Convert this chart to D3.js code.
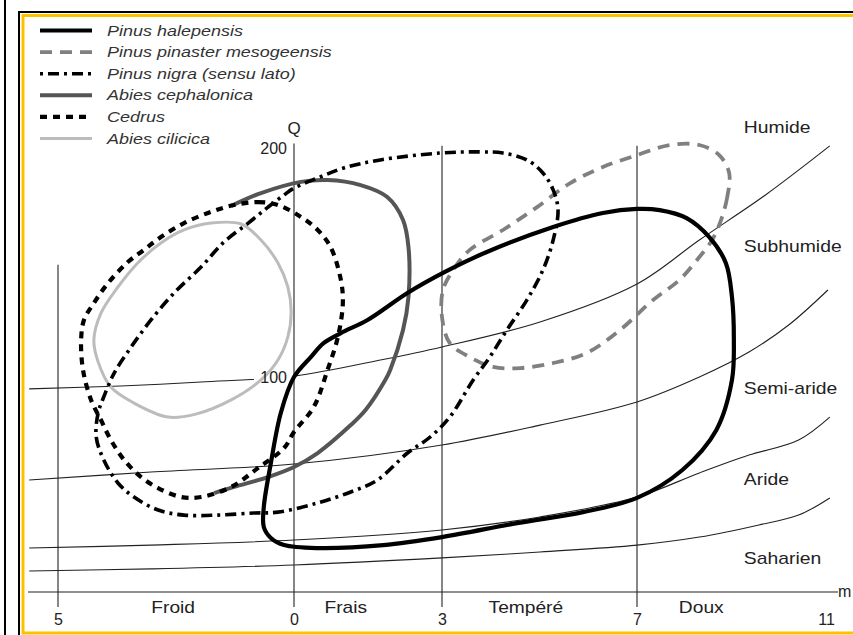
<!DOCTYPE html>
<html><head><meta charset="utf-8">
<script src="https://cdn.jsdelivr.net/npm/d3@7/dist/d3.min.js"></script>
<style>body{margin:0;background:#fff}svg{display:block}</style>
</head><body><svg id="c" width="853" height="635"></svg>
<script>
// ---------- data ----------
const mTicks = [-5, 0, 3, 7, 11];
const mTickLabels = ["5", "0", "3", "7", "11"];
const qTicks = [100, 200];
const gridM = [-5, 0, 3, 7];
const gridTopQ = [149, 202, 201, 201];
const zoneNames = ["Froid", "Frais", "Tempéré", "Doux"];
const zoneLabelM = [-2.56, 1.05, 4.72, 8.36];
const climateNames = ["Humide", "Subhumide", "Semi-aride", "Aride", "Saharien"];
const climateLabelQ = [209, 157, 95, 55.5, 21];
const climateLabelM = 9.26;

// bioclimatic boundaries [m, Q]
const limitHumide = [[-5.61,94.8],[-3.67,96.1],[-1.97,97.8],[0,100.4],[1.75,107.4],[3,113.1],[5.01,124],[7,140.6],[8.32,159.8],[9.72,179.5],[11.08,200.9]];
const limitSubhumide = [[-5.61,55],[-3.03,58.5],[0,62],[3,70.3],[5.01,79],[7,89.1],[8.32,100],[9.37,110.9],[10.21,122.7],[11.04,138]];
const limitSemiAride = [[-5.61,25.3],[-3.03,26.6],[0,28.8],[3,33.2],[5.01,38.9],[7,47.6],[8.32,58.1],[9.37,65.9],[10.42,72.5],[11.08,82.5]];
const limitAride = [[-5.61,15.3],[-3.03,16.2],[0,17.9],[3,21],[5.01,23.6],[7,26.6],[8.32,30.1],[9.58,35.4],[10.42,39.7],[11.08,47.2]];

// species envelopes [m, Q]
const halepensis = [[0,100],[0.34,108.7],[0.6,114.8],[0.95,119.2],[1.49,124.9],[2.3,136.7],[3.06,145.9],[3.92,154.6],[5.28,165.5],[6.3,171.6],[7,173.4],[7.48,172.9],[8.05,169.4],[8.53,161.1],[8.88,149.8],[9.01,134.9],[9.05,116.2],[9.01,98.7],[8.68,76.9],[7.96,59.4],[7,47.2],[5.89,41],[4.54,36.2],[3,30.1],[1.81,26.6],[0.48,25.3],[-0.21,26.6],[-0.49,29.7],[-0.64,34.5],[-0.64,43.2],[-0.49,62.4],[-0.28,84.3]];
const pinaster = [[8.95,189.1],[8.91,178.6],[8.78,168.6],[8.59,159.8],[8.32,152.4],[7.9,142.4],[7.34,133.6],[6.65,120.5],[5.97,110.5],[5.28,106.1],[4.6,103.9],[4.05,104.4],[3.57,108.7],[3.16,114.8],[3,126.2],[3.02,138],[3.23,146.7],[3.57,155.5],[4.25,164.2],[4.95,174.2],[5.63,184.7],[6.3,191.7],[7,196.9],[7.69,201.3],[8.32,201.3],[8.74,196.9]];
const nigra = [[-4.03,91.3],[-3.81,101.7],[-3.45,113.1],[-3.03,124.9],[-2.54,136.7],[-1.97,148],[-1.48,159],[-0.97,167.2],[-0.55,174.2],[-0.21,179.5],[0,182.5],[0.48,186.9],[1.01,191.3],[1.75,194.8],[2.96,197.8],[3.78,198.3],[4.25,197.8],[4.74,194.8],[5.07,189.1],[5.28,181.7],[5.38,172.9],[5.28,159.8],[5.07,146.7],[4.74,133.6],[4.33,120.5],[3.98,108.7],[3.64,98.7],[3.16,82.5],[2.76,73.8],[2.3,66.8],[1.69,55],[1.15,49.8],[0.48,45],[-0.34,41],[-0.85,40.6],[-1.61,39.7],[-2.33,39.7],[-2.88,41.9],[-3.39,47.6],[-3.73,53.7],[-4.03,63.8],[-4.19,73.8],[-4.15,84.3]];
const cephalonica = [[-1.33,174.7],[-0.7,180.3],[0.14,185.2],[0.68,186],[1.35,183.8],[1.89,178.6],[2.21,168.6],[2.32,156.8],[2.32,134.9],[2.21,120.5],[1.95,103.1],[1.85,98.7],[1.45,85.6],[1.15,79],[0.48,66.8],[0,60.7],[-0.55,56.3],[-1.27,52],[-1.69,49.3]];
const cedrus = [[-1.27,175.1],[-0.76,176.4],[-0.34,175.1],[0.14,169.9],[0.48,164.2],[0.74,156.8],[0.95,142.4],[0.99,132.3],[0.89,117.5],[0.68,103.1],[0.4,86.9],[0,76],[-0.21,69],[-0.76,60.3],[-1.33,52],[-1.97,47.6],[-2.39,47.6],[-2.88,51.5],[-3.24,56.3],[-3.6,63.8],[-3.88,72.5],[-4.09,81.2],[-4.3,90],[-4.47,103.1],[-4.51,116.2],[-4.45,124.9],[-4.24,132.3],[-3.94,141],[-3.52,150.2],[-3.18,155.5],[-2.82,161.1],[-2.33,167.2],[-1.76,172.1]];
const cilicica = [[-1.76,167.2],[-1.12,166.8],[-0.7,159.8],[-0.34,149.8],[-0.13,139.3],[-0.06,128.4],[-0.13,117.5],[-0.34,107.4],[-0.7,98.7],[-1.33,90],[-2.08,83.8],[-2.67,82.5],[-3.39,88.6],[-3.88,95.6],[-4.15,106.6],[-4.24,116.2],[-4.09,127.9],[-3.73,139.3],[-3.31,149.8],[-2.82,158.5],[-2.33,164.2]];

const legendNames = ["Pinus halepensis", "Pinus pinaster mesogeensis", "Pinus nigra (sensu lato)", "Abies cephalonica", "Cedrus", "Abies cilicica"];

// ---------- styles ----------
const styles = {
  halepensis:  {stroke:"#000",    width:4.2, dash:null},
  pinaster:    {stroke:"#808080", width:3.8, dash:"12,8"},
  nigra:       {stroke:"#000",    width:3.6, dash:"3,5,11,5"},
  cephalonica: {stroke:"#555",    width:4,   dash:null},
  cedrus:      {stroke:"#000",    width:4.2, dash:"7,6"},
  cilicica:    {stroke:"#bcbcbc", width:3,   dash:null}
};
const legendStyleKeys = ["halepensis","pinaster","nigra","cephalonica","cedrus","cilicica"];

// ---------- scales ----------
const x = d3.scaleLinear().domain(mTicks).range([58, 294, 442, 637, 826]);
const y = d3.scaleLinear().domain([100, 200]).range([377, 148]);
const axisY = 592, gridBottom = 607;
const FONT = "'Liberation Sans', Arial, sans-serif";

const svg = d3.select("#c");
svg.append("rect").attr("width", 853).attr("height", 635).attr("fill", "#fff");

// frame
svg.append("line").attr("x1", 5).attr("x2", 5).attr("y1", 0).attr("y2", 635)
  .attr("stroke", "#000").attr("stroke-width", 2);
svg.append("path").attr("d", "M19,640 V12 H860").attr("fill", "none")
  .attr("stroke", "#000").attr("stroke-width", 2);
svg.append("path").attr("d", "M860,15.5 H23 V633 H860").attr("fill", "none")
  .attr("stroke", "#FFC000").attr("stroke-width", 3);

function txt(g, px, py, s, size, opt = {}) {
  const t = g.append("text")
    .attr("transform", `translate(${px},${py}) scale(${opt.sx || 1},1)`)
    .attr("font-family", FONT).attr("font-size", size)
    .attr("fill", opt.fill || "#222")
    .attr("text-anchor", opt.anchor || "start")
    .text(s);
  if (opt.italic) t.attr("font-style", "italic");
  return t;
}

const thin = svg.append("g").attr("stroke", "#222").attr("stroke-width", 1.1).attr("fill", "none");
gridM.forEach((m, i) => {
  thin.append("line").attr("x1", x(m)).attr("x2", x(m))
    .attr("y1", y(gridTopQ[i])).attr("y2", gridBottom);
});
thin.append("line").attr("x1", 28).attr("x2", 838).attr("y1", axisY).attr("y2", axisY);

const openLine = d3.line().x(d => x(d[0])).y(d => y(d[1])).curve(d3.curveCatmullRom.alpha(0.5));
[limitHumide, limitSubhumide, limitSemiAride, limitAride].forEach(L => {
  thin.append("path").attr("d", openLine(L));
});

svg.append("rect").attr("x", x(0) - 40).attr("y", y(100) - 8).attr("width", 39).attr("height", 16).attr("fill", "#fff");

const closedLine = d3.line().x(d => x(d[0])).y(d => y(d[1])).curve(d3.curveCatmullRomClosed.alpha(0.5));
function drawSpecies(data, key, closed) {
  const s = styles[key];
  const p = svg.append("path")
    .attr("d", closed ? closedLine(data) : openLine(data))
    .attr("fill", "none").attr("stroke", s.stroke).attr("stroke-width", s.width)
    .attr("stroke-linejoin", "round");
  if (s.dash) p.attr("stroke-dasharray", s.dash);
}
drawSpecies(cilicica, "cilicica", true);
drawSpecies(cephalonica, "cephalonica", false);
drawSpecies(pinaster, "pinaster", true);
drawSpecies(cedrus, "cedrus", true);
drawSpecies(nigra, "nigra", true);
drawSpecies(halepensis, "halepensis", true);

const xAxis = d3.axisBottom(x).tickValues(mTicks).tickFormat((d, i) => mTickLabels[i]).tickSize(0).tickPadding(22);
const gx = svg.append("g").attr("transform", `translate(0,${axisY})`).call(xAxis);
gx.select(".domain").remove();
gx.selectAll("text").attr("font-family", FONT).attr("font-size", 16).attr("fill", "#222");

const yAxis = d3.axisLeft(y).tickValues(qTicks).tickSize(0).tickPadding(7);
const gy = svg.append("g").attr("transform", `translate(${x(0)},0)`).call(yAxis);
gy.select(".domain").remove();
gy.selectAll("text").attr("font-family", FONT).attr("font-size", 16).attr("fill", "#222");

const lab = svg.append("g");
txt(lab, x(0), 134, "Q", 17, {anchor: "middle"});
txt(lab, 838, 597, "m", 16);
zoneNames.forEach((n, i) => txt(lab, x(zoneLabelM[i]), 613, n, 16, {anchor: "middle", sx: 1.2}));
climateNames.forEach((n, i) => txt(lab, x(climateLabelM), y(climateLabelQ[i]) + 6, n, 16, {sx: 1.21}));

const leg = svg.append("g");
legendNames.forEach((n, i) => {
  const cy = 30.5 + i * 21.6;
  const s = styles[legendStyleKeys[i]];
  const l = leg.append("line").attr("x1", 40).attr("x2", 92).attr("y1", cy).attr("y2", cy)
    .attr("stroke", s.stroke).attr("stroke-width", s.width);
  if (s.dash) l.attr("stroke-dasharray", s.dash);
  txt(leg, 107, cy + 5, n, 14.5, {italic: true, sx: 1.24, fill: "#333"});
});
</script></body></html>
